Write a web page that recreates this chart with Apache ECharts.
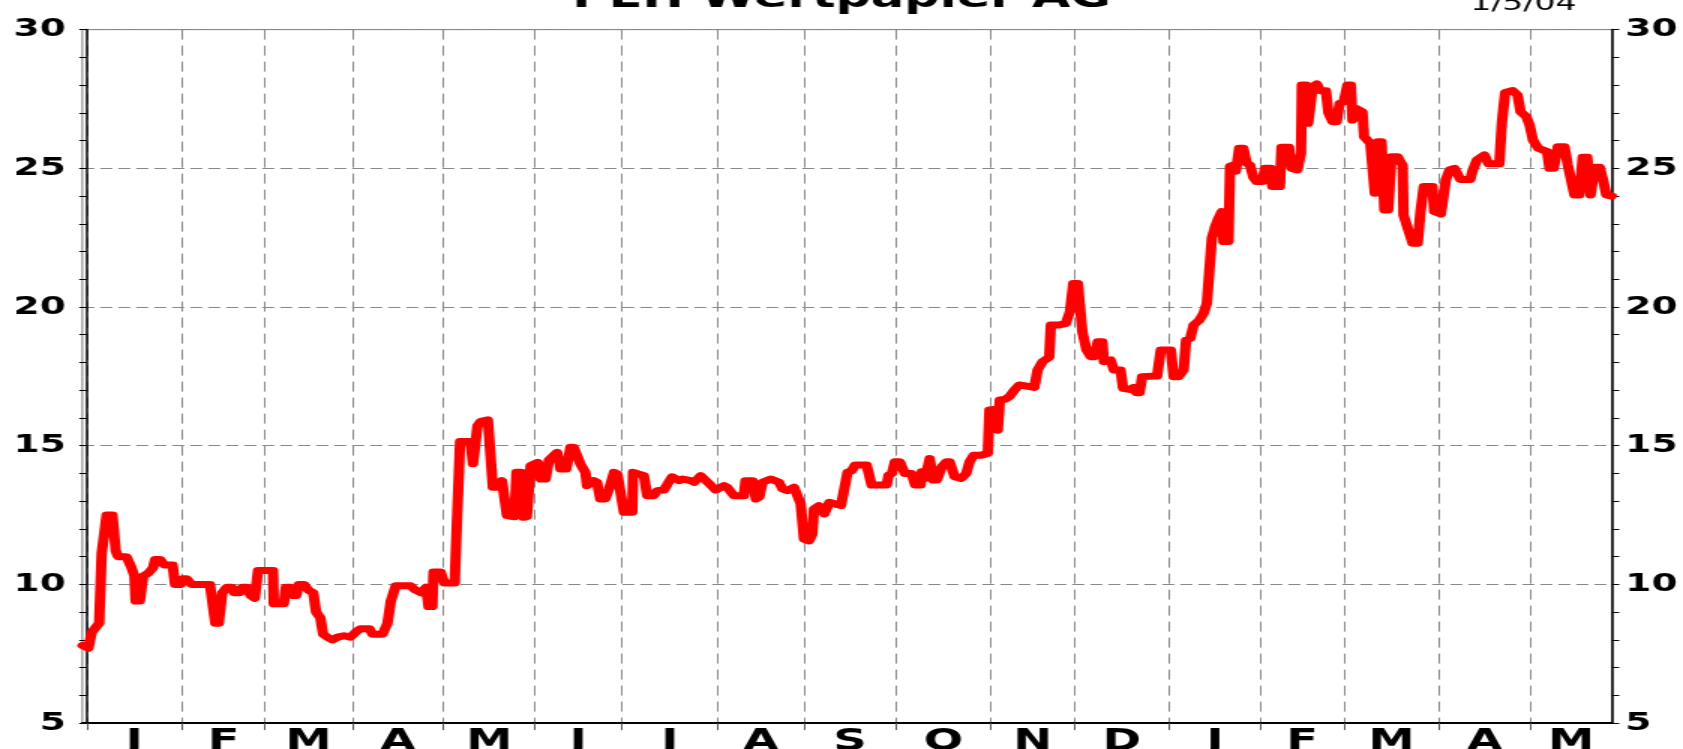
<!DOCTYPE html>
<html>
<head>
<meta charset="utf-8">
<script src="https://cdn.jsdelivr.net/npm/echarts@6/dist/echarts.min.js"></script>
<style>
  html, body { margin: 0; padding: 0; background: #fff; overflow: hidden; }
  /* the reference is drawn narrow and stretched sideways */
  #chart { width: 1122px; height: 749px; transform: scaleX(1.5); transform-origin: 0 0; }
</style>
</head>
<body>
<div id="chart"></div>
<script>
// month letters and the trading-day index where each month starts (Jan 2003 .. May 2004)
const monthLabels = ["J", "F", "M", "A", "M", "J", "J", "A", "S", "O", "N", "D", "J", "F", "M", "A", "M"];
const monthStarts = [0, 23, 43, 64, 86, 108, 129, 152, 173, 195, 218, 238, 261, 283, 303, 326, 348];
const priceTicks = [5, 10, 15, 20, 25, 30];

// [trading day, price]
const pehPrice = [
  [-1, 7.8], [0.4, 7.7], [1.2, 8.27], [3.0, 8.6], [3.6, 11.1], [4.8, 12.5], [6.2, 12.5], [7.0, 11.2],
  [7.6, 11.0], [9.6, 11.0], [10.8, 10.6], [11.5, 10.3], [11.8, 9.4], [12.8, 9.4], [13.6, 10.3], [14.8, 10.4],
  [16.0, 10.6], [16.5, 10.9], [17.7, 10.9], [18.7, 10.7], [20.7, 10.7], [21.3, 10.0], [22.7, 10.0], [23.1, 10.2],
  [24.1, 10.2], [25.3, 10.0], [29.7, 10.0], [31.0, 8.6], [31.8, 8.6], [32.7, 9.7], [33.8, 9.9], [35.0, 9.9],
  [35.5, 9.7], [36.9, 9.7], [37.5, 9.9], [38.7, 9.9], [39.5, 9.6], [40.5, 9.5], [41.0, 9.5], [41.3, 10.5],
  [44.9, 10.5], [45.1, 9.3], [47.5, 9.3], [48.0, 9.9], [49.1, 9.9], [49.7, 9.6], [50.5, 9.6], [51.1, 10.0],
  [52.4, 10.0], [53.4, 9.8], [54.6, 9.7], [55.3, 9.0], [56.3, 8.8], [57.0, 8.2], [58.0, 8.1], [59.2, 8.0],
  [60.5, 8.1], [62.0, 8.15], [63.6, 8.1], [65.0, 8.3], [66.0, 8.4], [68.2, 8.4], [68.9, 8.2], [71.3, 8.2],
  [72.5, 8.6], [73.3, 9.4], [74.5, 9.95], [78.0, 9.95], [79.2, 9.8], [80.6, 9.7], [81.8, 9.9], [82.4, 9.2],
  [83.3, 9.2], [83.6, 10.45], [85.3, 10.45], [86.2, 10.05], [88.7, 10.05], [89.3, 12.5], [90.0, 15.15], [92.5, 15.15],
  [93.1, 14.35], [94.2, 15.72], [95.0, 15.88], [96.7, 15.93], [97.9, 13.5], [99.1, 13.5], [100.1, 13.74], [100.7, 13.74],
  [101.3, 12.48], [103.1, 12.44], [103.6, 14.04], [104.7, 14.04], [105.3, 12.42], [106.1, 12.44], [107.0, 14.28], [108.7, 14.4],
  [109.4, 13.8], [110.6, 13.8], [111.4, 14.48], [113.4, 14.76], [114.2, 14.16], [115.6, 14.16], [116.6, 14.94], [117.4, 14.94],
  [119.0, 14.34], [120.2, 14.04], [120.6, 13.56], [122.2, 13.74], [123.0, 13.68], [123.8, 13.08], [125.0, 13.08], [125.9, 13.44],
  [127.1, 14.04], [127.9, 13.98], [129.5, 12.6], [131.5, 12.6], [131.7, 14.04], [134.3, 13.92], [135.1, 13.2], [136.7, 13.2],
  [137.5, 13.38], [139.1, 13.4], [141.1, 13.88], [142.8, 13.74], [143.6, 13.8], [145.6, 13.74], [146.4, 13.68], [148.0, 13.92],
  [150.0, 13.64], [151.6, 13.4], [153.6, 13.56], [154.4, 13.5], [156.0, 13.2], [158.4, 13.2], [158.8, 13.74], [160.5, 13.74],
  [161.3, 13.08], [162.1, 13.14], [162.9, 13.68], [164.9, 13.8], [166.9, 13.68], [167.7, 13.44], [168.9, 13.38], [170.5, 13.5],
  [170.9, 13.44], [172.1, 12.9], [172.9, 11.63], [174.1, 11.57], [174.9, 11.8], [175.3, 12.72], [176.5, 12.84], [177.8, 12.54],
  [179.0, 12.96], [181.8, 12.84], [183.4, 14.04], [184.4, 14.1], [185.2, 14.3], [188.0, 14.3], [189.2, 13.58], [192.8, 13.58],
  [193.3, 13.94], [194.1, 14.0], [194.8, 14.42], [196.0, 14.42], [197.2, 14.0], [198.8, 14.0], [199.7, 13.58], [201.0, 13.58],
  [201.3, 14.06], [202.1, 13.82], [203.2, 14.54], [204.0, 13.76], [204.9, 13.76], [206.1, 14.24], [207.2, 14.42], [208.0, 14.42],
  [209.2, 13.88], [210.8, 13.82], [212.0, 14.0], [212.8, 14.42], [213.8, 14.66], [215.6, 14.66], [217.2, 14.72], [217.6, 16.29],
  [218.8, 16.31], [219.6, 15.56], [220.1, 16.65], [221.3, 16.67], [222.4, 16.77], [223.6, 17.0], [224.8, 17.19], [228.4, 17.1],
  [229.2, 17.73], [230.4, 18.03], [232.0, 18.19], [232.4, 19.35], [234.4, 19.35], [236.0, 19.41], [237.0, 19.83], [237.8, 20.85],
  [238.9, 20.85], [240.0, 19.1], [241.0, 18.45], [242.0, 18.21], [243.0, 18.21], [243.7, 18.75], [244.8, 18.75], [245.2, 18.03],
  [246.8, 18.09], [247.6, 17.73], [249.2, 17.73], [249.8, 17.07], [251.4, 17.03], [252.4, 17.1], [253.0, 16.91], [253.8, 16.91],
  [254.4, 17.49], [258.0, 17.51], [258.9, 18.45], [261.3, 18.45], [262.0, 17.49], [263.2, 17.49], [264.4, 17.73], [265.0, 18.81],
  [266.0, 18.87], [266.8, 19.35], [268.2, 19.53], [269.2, 19.77], [270.0, 20.13], [271.2, 22.48], [272.0, 22.9], [272.8, 23.2],
  [273.6, 23.44], [274.0, 22.36], [275.2, 22.36], [275.6, 25.08], [276.5, 25.12], [277.0, 24.9], [277.8, 25.72], [278.8, 25.72],
  [279.6, 25.18], [280.4, 25.12], [281.2, 24.68], [282.0, 24.52], [283.4, 24.52], [284.0, 25.0], [285.4, 25.0], [285.8, 24.34],
  [287.6, 24.34], [288.0, 25.76], [289.8, 25.76], [290.4, 25.0], [291.8, 24.94], [292.7, 25.54], [292.9, 28.0], [293.9, 28.0],
  [294.4, 26.62], [295.1, 26.62], [295.5, 27.94], [296.5, 28.04], [297.3, 27.8], [298.7, 27.8], [299.3, 27.0], [300.3, 26.68],
  [301.3, 26.68], [302.0, 27.34], [303.0, 27.4], [303.9, 28.0], [304.7, 28.0], [305.1, 26.74], [305.9, 27.16], [307.5, 27.04],
  [307.9, 26.14], [309.4, 25.9], [310.5, 24.1], [311.2, 25.96], [312.1, 25.96], [312.8, 23.5], [313.7, 23.5], [314.5, 25.42],
  [316.0, 25.42], [316.8, 25.2], [317.2, 25.12], [317.4, 23.32], [318.0, 23.26], [319.6, 22.3], [320.8, 22.3], [321.5, 23.44],
  [322.3, 24.34], [324.4, 24.34], [324.8, 23.44], [326.4, 23.35], [327.6, 24.58], [328.5, 24.94], [329.7, 25.0], [331.1, 24.6],
  [333.5, 24.6], [334.1, 24.94], [335.1, 25.3], [336.9, 25.48], [337.9, 25.16], [340.5, 25.16], [341.1, 26.62], [341.9, 27.73],
  [343.7, 27.8], [344.9, 27.64], [345.6, 27.04], [347.0, 26.86], [347.8, 26.56], [348.6, 26.02], [349.9, 25.72], [352.0, 25.6],
  [352.6, 25.0], [353.6, 25.0], [354.6, 25.78], [356.2, 25.78], [357.0, 25.12], [358.6, 24.04], [359.8, 24.04], [360.6, 25.4],
  [361.7, 25.4], [362.5, 24.04], [363.5, 25.04], [364.7, 25.04], [365.5, 24.58], [366.3, 24.04], [367.6, 24.0]
];

const dayMin = -1.05;
const dayMax = 367.6;
// month letters sit in the middle of each month
const monthMids = monthStarts.map((s, i) => (s + (i + 1 < monthStarts.length ? monthStarts[i + 1] : dayMax)) / 2);

const boldFont = { fontFamily: "DejaVu Sans", fontWeight: "bold", color: "#000" };

function yAxisFor(side) {
  return {
    type: "value",
    position: side,
    min: priceTicks[0],
    max: priceTicks[priceTicks.length - 1],
    interval: 5,
    axisLine: { show: true, lineStyle: { color: "#000", width: 1.5 } },
    axisTick: { show: true, length: 5, lineStyle: { color: "#000" } },
    minorTick: { show: true, splitNumber: 5, length: 5, lineStyle: { color: "#000" } },
    axisLabel: { ...boldFont, fontSize: 25, margin: side === "left" ? 11 : 9, padding: [0, 0, 14, 0] },
    splitLine: { show: side === "left", lineStyle: { color: "#888", type: [8, 4] } },
  };
}

let myChart = echarts.init(document.getElementById("chart"));
myChart.setOption({
  animation: false,
  title: [
    {
      text: "PEH Wertpapier AG",
      left: "center",
      top: -23,
      textStyle: { ...boldFont, fontSize: 33 },
    },
    {
      text: "1/5/04",
      right: 66,
      top: -12,
      textStyle: { fontFamily: "DejaVu Sans", fontWeight: "normal", fontSize: 22, color: "#000" },
    },
  ],
  grid: {
    left: 54.9,
    right: 47.5,
    top: 29.6,
    bottom: 25.9,
    outerBoundsMode: "none",
    show: true,
    borderColor: "#777",
    borderWidth: 1,
  },
  xAxis: {
    type: "value",
    min: dayMin,
    max: dayMax,
    axisLine: { onZero: false, lineStyle: { color: "#000", width: 2 } },
    axisTick: { customValues: monthStarts, length: 7, lineStyle: { color: "#555" } },
    axisLabel: {
      ...boldFont,
      fontSize: 31,
      margin: 3,
      customValues: monthMids,
      formatter: (v) => {
        let best = 0;
        monthMids.forEach((m, i) => {
          if (Math.abs(m - v) < Math.abs(monthMids[best] - v)) best = i;
        });
        return monthLabels[best];
      },
    },
    splitLine: { show: true, lineStyle: { color: "#888", type: [10, 6] } },
  },
  yAxis: [yAxisFor("left"), yAxisFor("right")],
  series: [
    {
      name: "PEH",
      type: "line",
      data: pehPrice,
      symbol: "none",
      clip: false,
      lineStyle: { color: "#ff0000", width: 7, cap: "round", join: "round" },
    },
  ],
});
</script>
</body>
</html>
